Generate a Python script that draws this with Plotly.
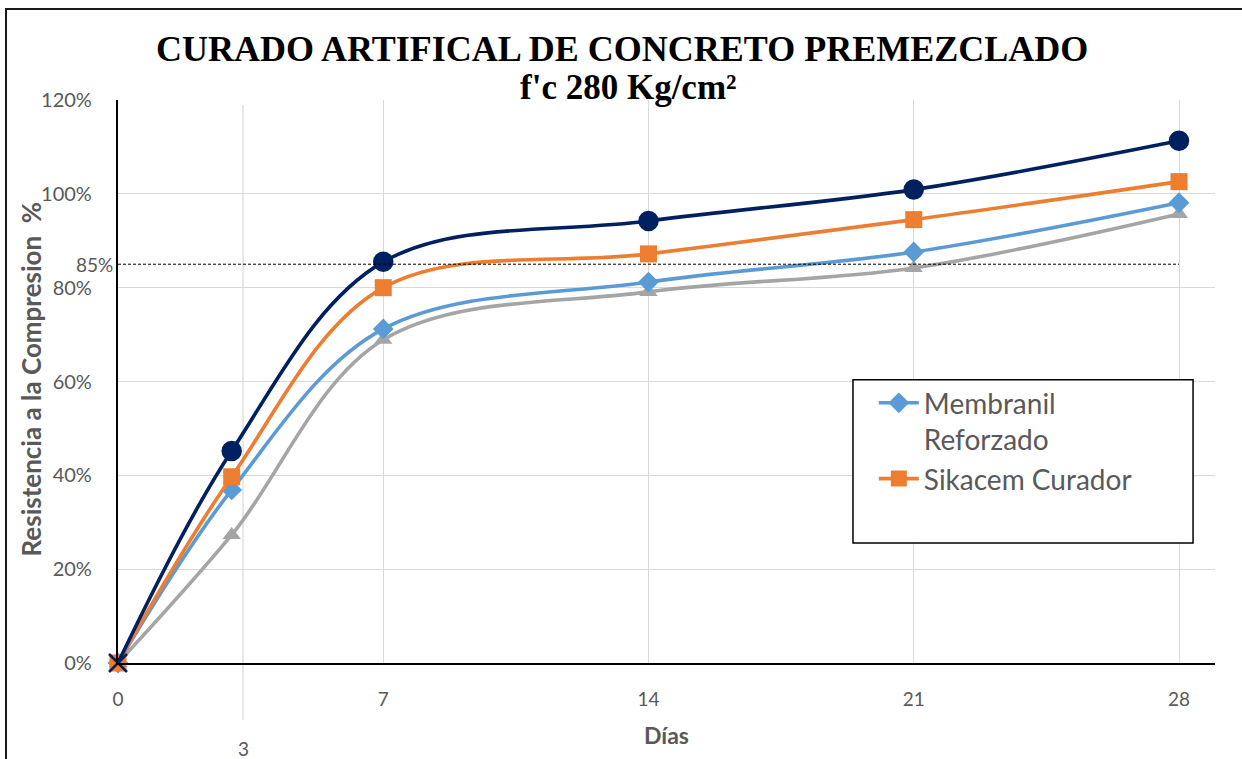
import plotly.graph_objects as go

# Curing days and compressive strength (% of f'c) for each curing method
dias = [0, 3, 7, 14, 21, 28]
membranil = [0, 36.9, 71.2, 81.2, 87.6, 98.1]
sikacem = [0, 39.7, 80.0, 87.2, 94.5, 102.6]
serie_superior = [0, 45.2, 85.5, 94.2, 100.9, 111.3]
serie_inferior = [0, 27.3, 68.9, 79.1, 84.2, 95.7]

y_ticks = [0, 20, 40, 60, 80, 100, 120]
x_ticks = [0, 7, 14, 21, 28]
referencia = 85  # minimum required strength line

SANS = "Lato"
GREY_TXT = "#595959"

fig = go.Figure()

def add_series(y, name, color, symbol, size, legend):
    fig.add_trace(go.Scatter(
        x=dias, y=y, name=name, mode="lines+markers",
        line=dict(color=color, width=3.6, shape="spline", smoothing=1.0),
        marker=dict(symbol=symbol, size=size, color=color),
        showlegend=legend, cliponaxis=False,
    ))

add_series(serie_inferior, "Serie 4", "#A5A5A5", "triangle-up", 16, False)
add_series(membranil, "Membranil<br>Reforzado", "#5B9BD5", "diamond", 16, True)
add_series(sikacem, "Sikacem Curador", "#ED7D31", "square", 17, True)
add_series(serie_superior, "Serie 3", "#002060",
           ["x-thin-open"] + ["circle"] * (len(dias) - 1), 18, False)
fig.data[-1].marker.line = dict(color="#002060", width=2.5)

# dashed 85 % reference line
fig.add_shape(type="line", xref="x", yref="y", x0=0, x1=28,
              y0=referencia, y1=referencia,
              line=dict(color="black", width=1, dash="3px,2px"), layer="above")
fig.add_annotation(xref="paper", yref="y", x=-0.003, y=referencia,
                   text=f"{referencia}%", showarrow=False, xanchor="right",
                   yanchor="middle", font=dict(family=SANS, size=19, color=GREY_TXT))

# secondary day-3 marker line and its label
fig.add_shape(type="line", xref="x", yref="paper", x0=3.3, x1=3.3,
              y0=-0.101, y1=0.991, line=dict(color="#D9D9D9", width=1.2),
              layer="below")
fig.add_annotation(xref="x", yref="paper", x=3.3, y=-0.1510, text="3",
                   showarrow=False, xanchor="center", yanchor="middle",
                   font=dict(family=SANS, size=19, color=GREY_TXT))

# legend frame
fig.add_shape(type="rect", xref="paper", yref="paper",
              x0=0.670, x1=0.980, y0=0.213, y1=0.503,
              line=dict(color="black", width=1.5), fillcolor="white", layer="above")

# outer chart frame
fig.add_shape(type="rect", xref="paper", yref="paper",
              x0=-0.1021, x1=1.04, y0=-0.20, y1=1.1616,
              line=dict(color="#1a1a1a", width=2), fillcolor="rgba(0,0,0,0)")

# titles
fig.add_annotation(xref="paper", yref="paper", x=0.4597, y=1.0900,
                   text="<b>CURADO ARTIFICAL DE CONCRETO PREMEZCLADO</b>",
                   showarrow=False, xanchor="center", yanchor="middle",
                   font=dict(family="Liberation Serif", size=36, color="black"))
fig.add_annotation(xref="paper", yref="paper", x=0.4658, y=1.0230,
                   text="<b>f'c 280 Kg/cm²</b>", showarrow=False,
                   xanchor="center", yanchor="middle",
                   font=dict(family="Liberation Serif", size=35, color="black"))

fig.add_annotation(xref="paper", yref="paper", x=-0.0795, y=0.505,
                   text="<b>Resistencia a la Compresion  %</b>", textangle=-90,
                   showarrow=False, xanchor="center", yanchor="middle",
                   font=dict(family=SANS, size=26, color=GREY_TXT))
fig.add_annotation(xref="paper", yref="paper", x=0.4996, y=-0.128,
                   text="<b>Días</b>", showarrow=False,
                   xanchor="center", yanchor="middle",
                   font=dict(family=SANS, size=23, color=GREY_TXT))

fig.update_layout(
    width=1242, height=759,
    margin=dict(l=118, r=27, t=100, b=96),
    paper_bgcolor="white", plot_bgcolor="white",
    font=dict(family=SANS, color=GREY_TXT),
    legend=dict(x=0.689, y=0.506, xanchor="left", yanchor="top",
                bgcolor="rgba(0,0,0,0)", borderwidth=0, valign="top",
                font=dict(family=SANS, size=28, color=GREY_TXT),
                itemwidth=40, tracegroupgap=6),
    xaxis=dict(range=[0, 28.95], tickvals=x_ticks, ticktext=[str(v) for v in x_ticks],
               showgrid=True, gridcolor="#D9D9D9", gridwidth=1.2,
               showline=True, linecolor="black", linewidth=2.2,
               ticks="outside", ticklen=18, tickcolor="rgba(0,0,0,0)",
               tickfont=dict(family=SANS, size=19, color=GREY_TXT),
               zeroline=False),
    yaxis=dict(range=[0, 120], tickvals=y_ticks, ticktext=[f"{v}%" for v in y_ticks],
               showgrid=True, gridcolor="#D9D9D9", gridwidth=1.2,
               showline=True, linecolor="black", linewidth=2.2,
               ticks="outside", ticklen=20, tickcolor="rgba(0,0,0,0)",
               tickfont=dict(family=SANS, size=20, color=GREY_TXT),
               zeroline=False),
)

fig.write_html("out.html")
